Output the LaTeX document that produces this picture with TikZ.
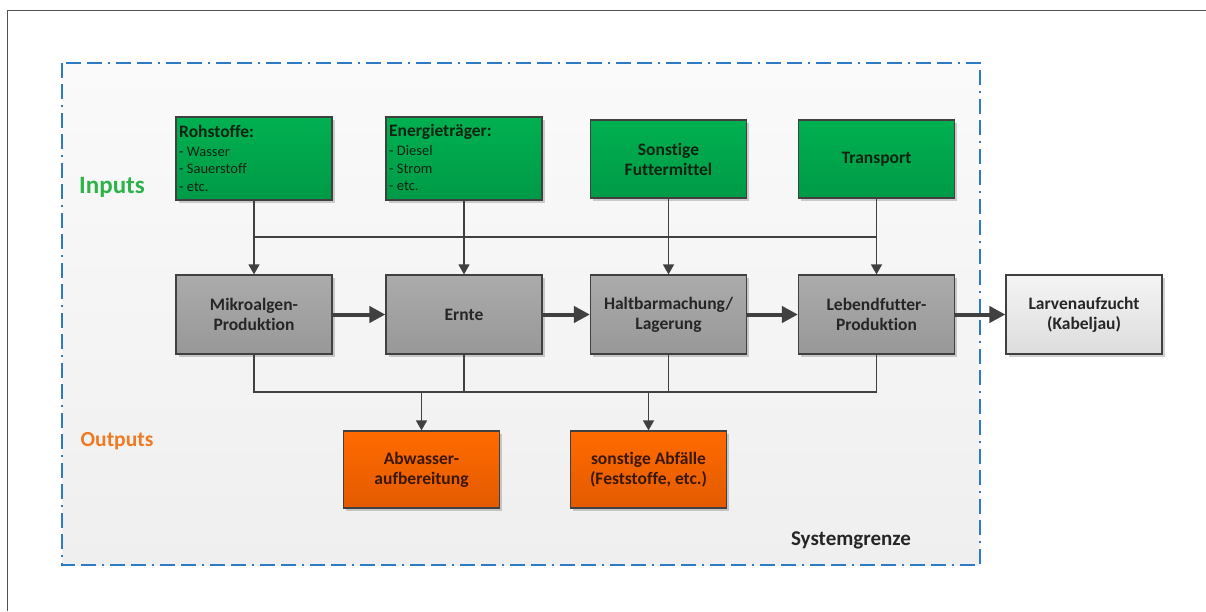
\documentclass[tikz,border=0pt]{standalone}
\usepackage{fontspec}
\setmainfont[Ligatures={NoCommon}]{Carlito}
\usetikzlibrary{arrows.meta,shadows}
\definecolor{gtop}{HTML}{00B050}
\definecolor{gbot}{HTML}{009A47}
\definecolor{gtext}{HTML}{0B2412}
\definecolor{ytop}{HTML}{ABABAB}
\definecolor{ybot}{HTML}{989898}
\definecolor{ytext}{HTML}{262626}
\definecolor{otop}{HTML}{FF6A00}
\definecolor{obot}{HTML}{E35B00}
\definecolor{otext}{HTML}{3A1800}
\definecolor{ltop}{HTML}{F4F4F4}
\definecolor{lbot}{HTML}{DDDDDD}
\definecolor{edge}{HTML}{404040}
\definecolor{bound}{HTML}{2E7BC4}
\definecolor{intxt}{HTML}{2DB34A}
\definecolor{outtxt}{HTML}{EE7A22}
\definecolor{bgtop}{HTML}{FAFAFA}
\definecolor{bgbot}{HTML}{EFEFEF}
\begin{document}
\begin{tikzpicture}[x=1pt,y=-1pt,
  box/.style={draw=edge, line width=1.2pt, minimum width=156pt, minimum height=79pt,
    inner sep=2pt, align=center, font=\fontsize{17.5}{20}\selectfont\bfseries,
    drop shadow={shadow xshift=2.5pt, shadow yshift=-2.5pt, opacity=0.18, fill=black}},
  greenbox/.style={box, top color=gtop, bottom color=gbot, text=gtext},
  graybox/.style={box, top color=ytop, bottom color=ybot, text=ytext},
  orangebox/.style={box, top color=otop, bottom color=obot, text=otext, minimum height=77pt},
  lightbox/.style={box, top color=ltop, bottom color=lbot, text=ytext},
  conn/.style={draw=edge, line width=1.4pt},
  thinarrow/.style={conn, -{Triangle[length=10pt,width=11pt]}},
  flow/.style={draw=edge, line width=4pt, -{Triangle[length=16pt,width=16pt]}},
  listtext/.style={anchor=north west, inner sep=0pt, text=gtext, align=left,
    font=\fontsize{14.5}{17.3}\selectfont}
]
\useasboundingbox (0,0) rectangle (1206,611);
% outer frame (top and left edge)
\draw[edge!90, line width=1.3pt] (7.5,611) -- (7.5,10.5) -- (1206,10.5);
% system boundary
\shade[top color=bgtop, bottom color=bgbot] (62,63) rectangle (980,565);
\draw[bound, line width=1.8pt, dash pattern=on 15pt off 6pt on 15pt off 6pt on 2pt off 6pt]
  (62,63) rectangle (980,565);

% labels
\node[text=intxt, font=\fontsize{25}{28}\selectfont\bfseries] (inputs) at (112,187) {Inputs};
\node[text=outtxt, font=\fontsize{21.5}{24}\selectfont\bfseries] (outputs) at (117,441) {Outputs};
\node[text=ytext, font=\fontsize{21}{24}\selectfont\bfseries] (sysg) at (851,540) {Systemgrenze};

% input boxes
\node[greenbox, minimum height=83pt] (roh) at (254,158.5) {};
\node[listtext] (rohT) at (179,125) {{\fontsize{17.5}{17.3}\selectfont\bfseries Rohstoffe:}\\[1.7pt]
  - Wasser\\ - Sauerstoff\\ - etc.};
\node[greenbox, minimum height=83pt] (ene) at (464,158.5) {};
\node[listtext] (eneT) at (389,124.5) {{\fontsize{17.5}{17.3}\selectfont\bfseries Energieträger:}\\[1.7pt]
  - Diesel\\ - Strom\\ - etc.};
\node[greenbox, minimum height=78pt] (son) at (668.5,159) {Sonstige\\Futtermittel};
\node[greenbox, minimum height=78pt] (tra) at (876.5,159) {Transport};

% process boxes
\node[graybox] (mik) at (254,314.5) {Mikroalgen-\\Produktion};
\node[graybox] (ern) at (464,314.5) {Ernte};
\node[graybox] (hal) at (668.5,314.5) {Haltbarmachung/\\Lagerung};
\node[graybox] (leb) at (876.5,314.5) {Lebendfutter-\\Produktion};
\node[lightbox] (lar) at (1084,314.5) {Larvenaufzucht\\(Kabeljau)};

% output boxes
\node[orangebox] (abw) at (421.5,469.5) {Abwasser-\\aufbereitung};
\node[orangebox] (abf) at (648.5,469.5) {sonstige Abfälle\\(Feststoffe, etc.)};

% input connectors
\coordinate (inL) at (254,237);
\coordinate (inR) at (876.5,237);
\draw[conn] (inL) -- (inR);
\draw[thinarrow] (roh.south) -- (mik.north);
\draw[thinarrow] (ene.south) -- (ern.north);
\draw[thinarrow] (son.south) -- (hal.north);
\draw[thinarrow] (tra.south) -- (leb.north);

% main flow
\draw[flow] (mik.east) -- (ern.west);
\draw[flow] (ern.east) -- (hal.west);
\draw[flow] (hal.east) -- (leb.west);
\draw[flow] (leb.east) -- (lar.west);

% output connectors
\coordinate (outL) at (254,392);
\coordinate (outR) at (876.5,392);
\draw[conn] (mik.south) -- (outL) -- (outR) -- (leb.south);
\draw[conn] (ern.south) -- (ern.south |- outL);
\draw[conn] (hal.south) -- (hal.south |- outL);
\draw[thinarrow] (abw.north |- outL) -- (abw.north);
\draw[thinarrow] (abf.north |- outL) -- (abf.north);
\end{tikzpicture}
\end{document}
